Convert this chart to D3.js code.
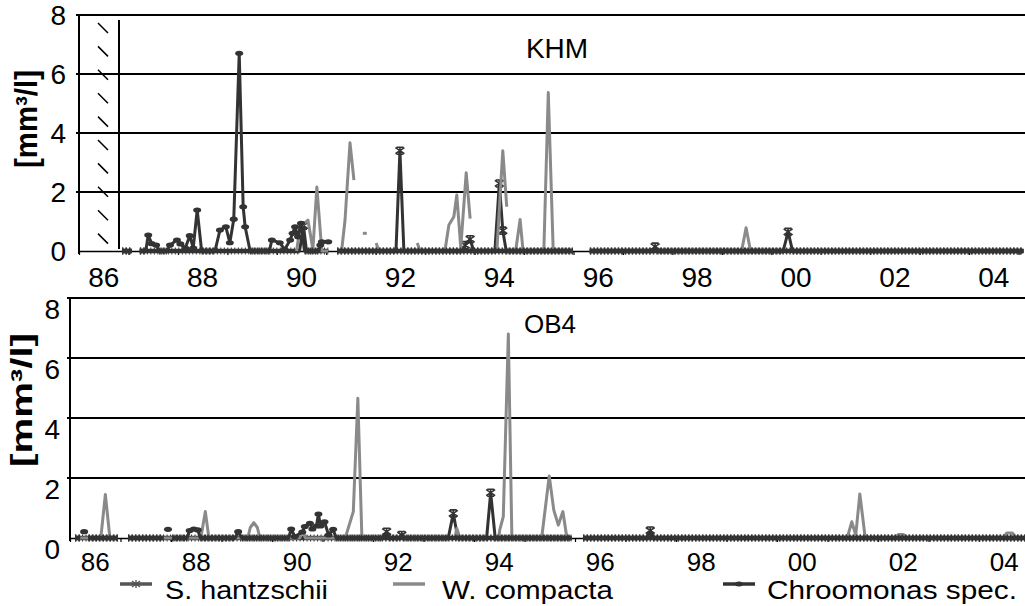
<!DOCTYPE html>
<html><head><meta charset="utf-8">
<script src="https://cdn.jsdelivr.net/npm/d3@7"></script>
<style>
body{margin:0;background:#fff}
svg{display:block}
text{font-family:"Liberation Sans",Arial,sans-serif;fill:#000}
</style>
</head><body>
<svg id="c" width="1025" height="606"></svg>
<script>
// ---------- DATA (x = year - 1900, y = biovolume mm³/l); each series = list of sampled runs ----------
const seriesNames = ["S. hantzschii", "W. compacta", "Chroomonas spec."];
const xTickLabels = ["86","88","90","92","94","96","98","00","02","04"];
const yTicks = [0, 2, 4, 6, 8];

// KHM
const khmHantzschii = [
  [[86.87,0],[87.07,0]],
  [[87.23,0],[90.46,0],[90.54,0.86],[90.6,0],[91.04,0]],
  [[91.22,0],[92.41,0],[92.49,3.4],[92.57,0],[93.75,0],[93.81,0.2],[93.91,0.4],[93.98,0],[94.41,0],[94.5,2.29],[94.57,0.69],[94.64,0],[95.99,0]],
  [[96.33,0],[97.6,0],[97.65,0.15],[97.7,0],[100.24,0],[100.34,0.65],[100.43,0],[105.1,0]]
];
const khmCompacta = [
  [[90.4,0],[90.47,0.8],[90.63,1.05],[90.73,0.05],[90.81,2.17],[90.91,0],[91.04,0]],
  [[91.22,0],[91.31,0],[91.38,1.05],[91.48,3.67],[91.56,2.4]],
  [[91.74,0.6],[91.82,0.6]],
  [[92.01,0.27],[92.06,0],[92.7,0]],
  [[92.84,0.27],[92.9,0],[93.4,0],[93.48,0.88],[93.58,1.16],[93.64,1.9],[93.72,0.12],[93.83,2.65],[93.91,1.1]],
  [[94.45,0],[94.57,3.4],[94.65,1.5]],
  [[94.8,0],[94.83,0],[94.92,1.07],[94.98,0],[95.4,0],[95.49,5.37],[95.59,0],[95.99,0]],
  [[96.33,0],[99.4,0],[99.49,0.79],[99.58,0],[105.1,0]]
];
const khmChroomonas = [
  [[86.87,0],[87.07,0]],
  [[87.23,0],[87.35,0],[87.40,0.54],[87.47,0.25],[87.56,0.2],[87.62,0],[87.78,0],[87.84,0.2],[87.98,0.37],[88.05,0.24],[88.15,0.1],[88.24,0.52],[88.31,0.1],[88.39,1.39],[88.48,0],[88.75,0],[88.85,0.71],[88.97,0.82],[89.05,0.28],[89.13,1.08],[89.24,6.7],[89.32,1.5],[89.36,0.82],[89.46,0],[89.85,0],[89.90,0.37],[90.06,0.28],[90.16,0.05],[90.27,0.37],[90.32,0.6],[90.37,0.82],[90.43,0.48],[90.49,0.94],[90.56,0],[90.85,0],[90.88,0.2],[90.91,0.31],[91.04,0.31]],
  [[91.22,0],[95.99,0]],
  [[96.33,0],[105.1,0]]
];

// OB4
const ob4Hantzschii = [
  [[86.1,0],[86.95,0]],
  [[87.15,0],[92.2,0],[92.27,0.21],[92.33,0],[92.52,0],[92.57,0.1],[92.62,0],[93.49,0],[93.59,0.82],[93.68,0],[94.25,0],[94.33,1.51],[94.42,0],[95.93,0]],
  [[96.16,0],[97.43,0],[97.49,0.25],[97.55,0],[105.1,0]]
];
const ob4Compacta = [
  [[86.1,0],[86.61,0],[86.70,1.45],[86.79,0],[86.95,0]],
  [[87.15,0],[88.59,0],[88.68,0.88],[88.75,0],[89.52,0],[89.57,0.35],[89.64,0.51],[89.71,0.35],[89.76,0],[90.55,0],[90.61,0.25],[90.66,0],[91.45,0],[91.61,0.88],[91.70,4.66],[91.78,0],[93.62,0],[93.66,0.32],[93.72,0],[94.49,0],[94.51,0.27],[94.58,0.71],[94.68,6.8],[94.75,0],[95.34,0],[95.49,2.07],[95.58,0.93],[95.67,0.43],[95.76,0.88],[95.84,0],[95.93,0]],
  [[96.16,0],[101.39,0],[101.48,0.54],[101.56,0.1],[101.64,1.47],[101.74,0.1],[101.81,0],[102.34,0],[102.40,0.12],[102.50,0.12],[102.57,0],[104.48,0],[104.55,0.17],[104.66,0.17],[104.75,0],[105.1,0]]
];
const ob4Chroomonas = [
  [[86.1,0],[86.2,0]],
  [[86.28,0.21]],
  [[86.36,0],[86.95,0]],
  [[87.15,0],[87.85,0]],
  [[87.94,0.29]],
  [[88.02,0],[88.32,0],[88.37,0.25],[88.45,0.3],[88.53,0.27],[88.58,0],[89.27,0],[89.33,0.21],[89.40,0],[90.33,0],[90.38,0.3],[90.45,0.05],[90.6,0.2],[90.65,0.38],[90.75,0.49],[90.8,0.3],[90.88,0.4],[90.92,0.8],[90.96,0.4],[91.04,0.54],[91.12,0.1],[91.21,0.29],[91.27,0],[95.93,0]],
  [[96.16,0],[105.1,0]]
];

// ---------- STYLE / LAYOUT ----------
const DARK = "#333333", GRAY = "#8a8a8a";
const svg = d3.select("#c");

const panels = [
  { title:"KHM", titleX:557, titleY:58, titleSize:28,
    series:[khmHantzschii, khmCompacta, khmChroomonas],
    xl:79, yrW:49.45, yTop:15, yBot:251,
    tickLabelY:287, tickSize:28, yLabDx:66, yLabShift:0,
    ytitle:{x:28, y:119, len:98, size:31}, hatch:true },
  { title:"OB4", titleX:550, titleY:333, titleSize:26,
    series:[ob4Hantzschii, ob4Compacta, ob4Chroomonas],
    xl:70, yrW:50.5, yTop:298, yBot:538,
    tickLabelY:571, tickSize:26, yLabDx:60, yLabShift:11,
    ytitle:{x:23, y:400, len:134, size:29}, hatch:false }
];

function starMarker(sel, color){
  sel.append("path")
    .attr("d","M-4.5,-3L4.5,3M-4.5,3L4.5,-3M0,-3.5L0,3.5M-3.5,-3.5L3.5,-3.5M-3.5,3.5L3.5,3.5")
    .attr("stroke",color).attr("stroke-width",1.6).attr("fill","none");
}
function dotMarker(sel, color){
  sel.append("ellipse").attr("rx",4).attr("ry",2.6).attr("fill",color);
}

panels.forEach((p, pi) => {
  const x = d3.scaleLinear().domain([86, 105]).range([p.xl, p.xl + 19 * p.yrW]);
  const y = d3.scaleLinear().domain([0, 8]).range([p.yBot, p.yTop]);
  const g = svg.append("g");

  // gridlines
  g.selectAll(".grid").data(yTicks.filter(d => d > 0)).join("line")
    .attr("x1", p.xl - 3).attr("x2", 1025)
    .attr("y1", d => y(d)).attr("y2", d => y(d))
    .attr("stroke", "#000").attr("stroke-width", 2);

  // y axis
  g.append("line").attr("x1", p.xl).attr("x2", p.xl)
    .attr("y1", p.yTop).attr("y2", p.yBot + 3)
    .attr("stroke", "#000").attr("stroke-width", 2);
  g.selectAll(".ytl").data(yTicks).join("text")
    .attr("x", p.yLabDx).attr("y", d => y(d) + p.yLabShift)
    .attr("dy", "0.36em").attr("text-anchor", "end")
    .attr("font-size", 28).text(d => d);

  // y title
  g.append("text")
    .attr("transform", `translate(${p.ytitle.x},${p.ytitle.y}) rotate(-90)`)
    .attr("text-anchor", "middle").attr("dy", "0.3em")
    .attr("font-size", p.ytitle.size).attr("font-weight", "bold")
    .attr("textLength", p.ytitle.len).attr("lengthAdjust", "spacingAndGlyphs")
    .text("[mm³/l]");

  // x axis: year boundary ticks
  const xAxis = d3.axisBottom(x).tickValues(d3.range(86, 106)).tickFormat("").tickSize(4).tickSizeOuter(0);
  const ax = g.append("g").attr("transform", `translate(0,${p.yBot})`).call(xAxis);
  ax.select(".domain").attr("stroke", "#000").attr("stroke-width", 1.5);
  ax.selectAll(".tick line").attr("stroke", "#000").attr("stroke-width", 1.2);

  // x labels centred in year
  g.selectAll(".xtl").data(xTickLabels).join("text")
    .attr("x", (d, i) => x(86.5 + 2 * i)).attr("y", p.tickLabelY)
    .attr("text-anchor", "middle").attr("font-size", p.tickSize).text(d => d);

  // title
  g.append("text").attr("x", p.titleX).attr("y", p.titleY)
    .attr("text-anchor", "middle").attr("font-size", p.titleSize).text(p.title);

  // hatched no-data area
  if (p.hatch) {
    g.append("line").attr("x1", 119).attr("x2", 119).attr("y1", 20).attr("y2", 249)
      .attr("stroke", "#000").attr("stroke-width", 2);
    const hy = d3.range(10).map(i => 23 + i * 23.4);
    g.selectAll(".hatch").data(hy).join("line")
      .attr("x1", 98).attr("x2", 108).attr("y1", d => d).attr("y2", d => d + 10)
      .attr("stroke", "#000").attr("stroke-width", 1.5);
  }

  // clip
  const cid = "clip" + pi;
  svg.append("clipPath").attr("id", cid).append("rect")
    .attr("x", p.xl + 1).attr("y", p.yTop - 8).attr("width", 1025 - p.xl).attr("height", p.yBot - p.yTop + 14);
  const dg = g.append("g").attr("clip-path", `url(#${cid})`);

  const line = d3.line().x(d => x(d[0])).y(d => y(d[1]));
  const styles = [
    {color: DARK, marker: starMarker},
    {color: GRAY, marker: null},
    {color: DARK, marker: dotMarker}
  ];
  p.series.forEach((segs, si) => {
    const st = styles[si];
    const sg = dg.append("g");
    segs.forEach(seg => {
      if (seg.length > 1) {
        sg.append("path").datum(seg).attr("d", line)
          .attr("fill", "none").attr("stroke", st.color).attr("stroke-width", 3)
          .attr("stroke-linejoin", "round");
      } else if (!st.marker) {
        sg.append("circle").attr("cx", x(seg[0][0])).attr("cy", y(seg[0][1])).attr("r", 1.5).attr("fill", st.color);
      }
      if (st.marker) {
        // dense zero samples: solid band plus marker texture
        for (let k = 0; k < seg.length - 1; k++) {
          if (seg[k][1] === 0 && seg[k + 1][1] === 0) {
            sg.append("line").attr("x1", x(seg[k][0])).attr("x2", x(seg[k + 1][0]))
              .attr("y1", y(0)).attr("y2", y(0))
              .attr("stroke", st.color).attr("stroke-width", 4.5);
            sg.append("line").attr("x1", x(seg[k][0])).attr("x2", x(seg[k + 1][0]))
              .attr("y1", y(0)).attr("y2", y(0))
              .attr("stroke", st.color).attr("stroke-width", 7)
              .attr("stroke-dasharray", si === 0 ? "1 2.5" : "1.5 2");
          }
        }
        seg.filter(d => d[1] > 0).forEach(d => {
          const m = sg.append("g").attr("transform", `translate(${x(d[0])},${y(d[1])})`);
          st.marker(m, st.color);
        });
      }
    });
  });
});

// legend
const legend = [
  {x1:120, x2:152, tx:165, len:163},
  {x1:393, x2:425, tx:442, len:171},
  {x1:723, x2:755, tx:767, len:250}
];
const lg = svg.append("g");
seriesNames.forEach((name, i) => {
  const L = legend[i];
  const color = i === 1 ? GRAY : (i === 0 ? "#555" : DARK);
  lg.append("line").attr("x1", L.x1).attr("x2", L.x2).attr("y1", 584).attr("y2", 584)
    .attr("stroke", color).attr("stroke-width", 3.5);
  if (i === 0) {
    lg.append("path").attr("d", "M132,581L140,587M132,587L140,581M136,580L136,588")
      .attr("stroke", "#555").attr("stroke-width", 1.3);
  }
  if (i === 2) {
    lg.append("ellipse").attr("cx", 739).attr("cy", 584).attr("rx", 4).attr("ry", 2.5).attr("fill", DARK);
  }
  lg.append("text").attr("x", L.tx).attr("y", 599).attr("font-size", 25)
    .attr("textLength", L.len).attr("lengthAdjust", "spacingAndGlyphs").text(name);
});
</script>
</body></html>
